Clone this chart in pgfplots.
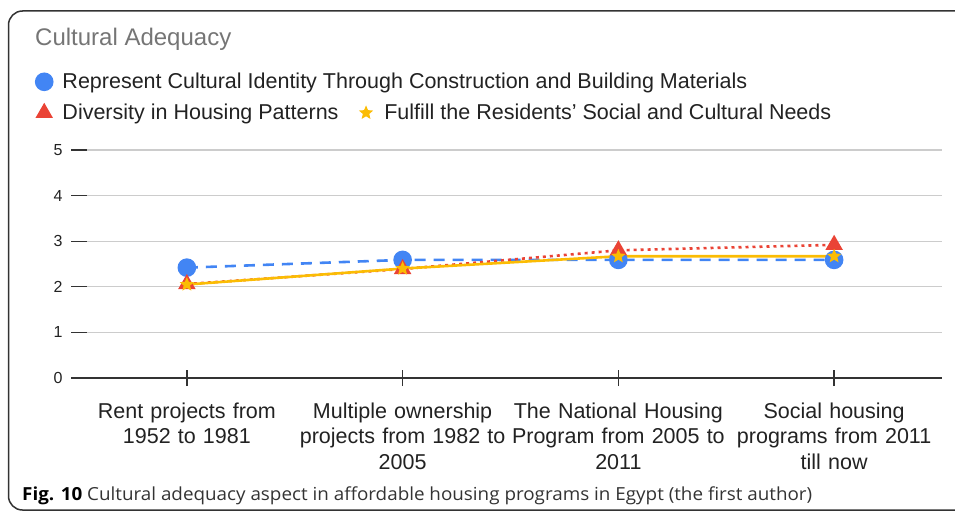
\documentclass[border=0pt]{standalone}
\usepackage{fontspec}
\setmainfont{Liberation Sans}
\newfontfamily\capfont{Open Sans}
\usepackage{graphicx}
\usepackage{pgfplots}
\pgfplotsset{compat=1.18}
\definecolor{cblue}{HTML}{4285F4}
\definecolor{cred}{HTML}{EA4335}
\definecolor{cyellow}{HTML}{FBBC04}
\definecolor{ctitle}{HTML}{757575}
\definecolor{cgrid}{HTML}{CCCCCC}
\definecolor{caxis}{HTML}{333333}
\definecolor{ctext}{HTML}{222222}
\definecolor{capgray}{HTML}{333333}
\pgfdeclareplotmark{fstar}{%
  \pgfpathmoveto{\pgfqpointpolar{90}{\pgfplotmarksize}}%
  \pgfpathlineto{\pgfqpointpolar{126}{0.45\pgfplotmarksize}}%
  \pgfpathlineto{\pgfqpointpolar{162}{\pgfplotmarksize}}%
  \pgfpathlineto{\pgfqpointpolar{198}{0.45\pgfplotmarksize}}%
  \pgfpathlineto{\pgfqpointpolar{234}{\pgfplotmarksize}}%
  \pgfpathlineto{\pgfqpointpolar{270}{0.45\pgfplotmarksize}}%
  \pgfpathlineto{\pgfqpointpolar{306}{\pgfplotmarksize}}%
  \pgfpathlineto{\pgfqpointpolar{342}{0.45\pgfplotmarksize}}%
  \pgfpathlineto{\pgfqpointpolar{18}{\pgfplotmarksize}}%
  \pgfpathlineto{\pgfqpointpolar{54}{0.45\pgfplotmarksize}}%
  \pgfpathclose
  \pgfusepathqfill
}
\begin{document}
\begin{tikzpicture}
\useasboundingbox (0pt,0pt) rectangle (955pt,512pt);
\begin{scope}
\clip (0pt,0pt) rectangle (955pt,512pt);
\draw[line width=1.5pt, color=caxis, rounded corners=14pt] (8.5pt,2pt) rectangle (975pt,501pt);
\end{scope}
\node[anchor=base west, font=\fontsize{24}{28}\selectfont, text=ctitle, inner sep=0pt] at (35pt,466.5pt) {Cultural Adequacy};
\begin{axis}[
  at={(71pt,134pt)}, anchor=south west,
  scale only axis, width=871pt, height=228pt,
  xmin=-0.537, xmax=3.5, ymin=0, ymax=5,
  ytick={0,1,2,3,4,5}, xtick={0,1,2,3},
  xticklabels={{Rent projects from\\1952 to 1981},{Multiple ownership\\projects from 1982 to\\2005},{The National Housing\\Program from 2005 to\\2011},{Social housing\\programs from 2011\\till now}},
  xticklabel style={align=center, text width=230pt, font=\fontsize{21.5}{25.5}\selectfont, text=ctext, yshift=-13pt},
  yticklabel style={font=\fontsize{16}{18}\selectfont, text=ctext, xshift=3pt},
  /pgf/number format/assume math mode=true,
  axis x line*=bottom, axis y line*=left,
  x axis line style={-, color=caxis, line width=1.6pt},
  y axis line style={draw=none},
  ymajorgrids, grid style={cgrid, line width=1.2pt},
  tick align=center, major tick length=16pt,
  tick style={caxis, line width=1.3pt},
  ytick style={xshift=8pt},
  clip=false,
  legend columns=2,
  legend style={at={(-0.0436,1.355)}, anchor=north west, draw=none, fill=none,
    font=\fontsize{21.5}{25}\selectfont, text=ctext, row sep=10pt,
    /tikz/every even column/.append style={column sep=17pt}},
  legend cell align=left,
  legend image code/.code={\draw[#1, solid] plot coordinates {(0.3cm,0cm)}; \path (23.5pt,0pt);},
]
\addplot[cblue, line width=2.6pt, dash pattern=on 11pt off 8pt, mark=*, mark size=8pt, mark options={solid, fill=cblue, draw=none}]
  coordinates {(0,2.42) (1,2.59) (2,2.59) (3,2.59)};
\addlegendentry{\makebox[0pt][l]{Represent Cultural Identity Through Construction and Building Materials}}
\addlegendimage{empty legend}
\addlegendentry{}
\addplot[cred, line width=2.6pt, dash pattern=on 3pt off 4pt, mark=triangle*, mark size=7.5pt, mark options={solid, fill=cred, draw=none}]
  coordinates {(0,2.06) (1,2.39) (2,2.80) (3,2.92)};
\addlegendentry{Diversity in Housing Patterns}
\addplot[cyellow, line width=2.6pt, mark=fstar, mark size=7.5pt, mark options={solid, fill=cyellow, draw=none}]
  coordinates {(0,2.05) (1,2.40) (2,2.67) (3,2.67)};
\addlegendentry{Fulfill the Residents’ Social and Cultural Needs}
\end{axis}
\node[anchor=base west, inner sep=0pt] at (22pt,12pt) {\resizebox{790pt}{\height}{\capfont\fontsize{18}{20}\selectfont\textbf{Fig. 10} {\color{capgray}Cultural adequacy aspect in affordable housing programs in Egypt (the first author)}}};
\end{tikzpicture}
\end{document}
